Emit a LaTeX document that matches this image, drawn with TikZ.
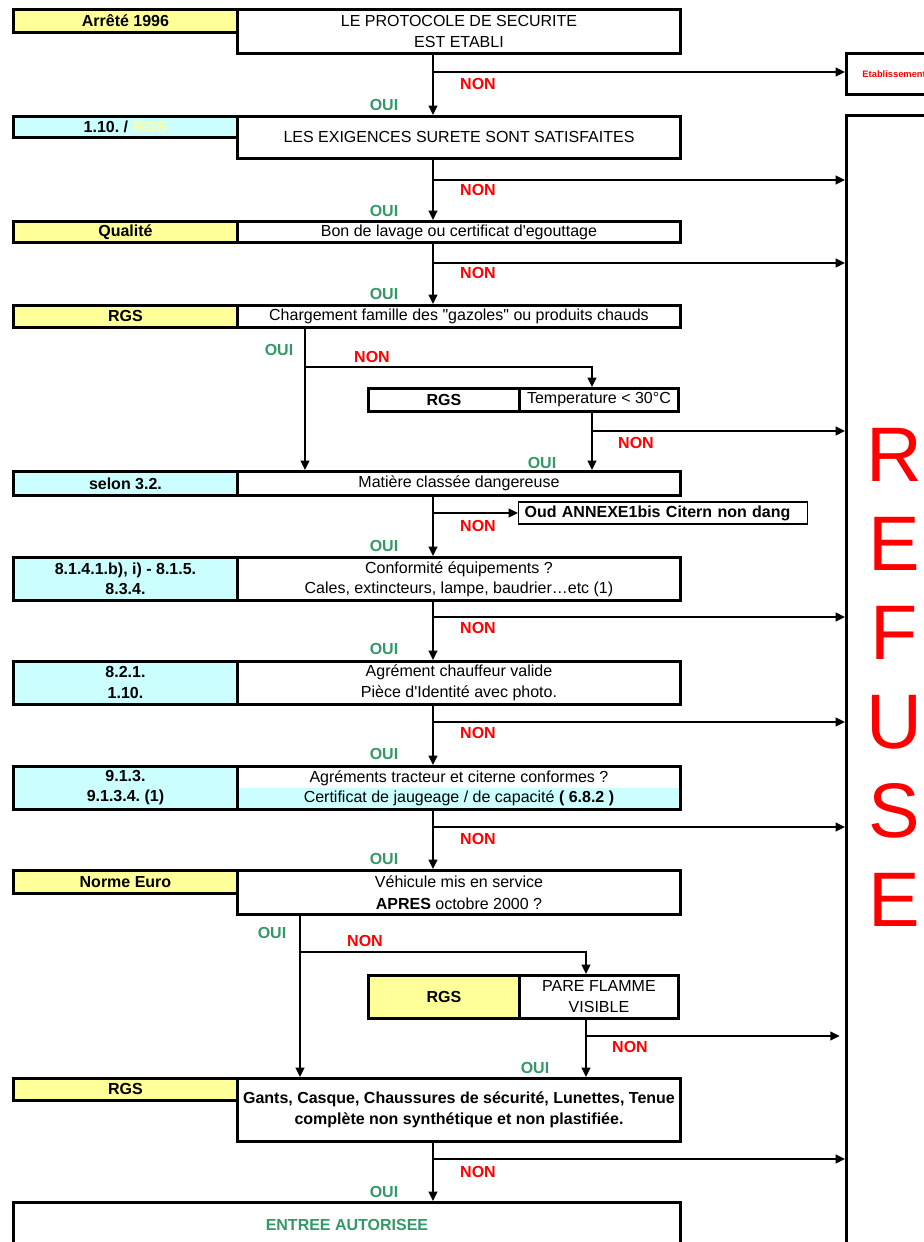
\documentclass[tikz,border=0pt]{standalone}
\usepackage{fontspec}
\setmainfont{Liberation Sans}
\usetikzlibrary{arrows.meta}
\definecolor{jaune}{HTML}{FFFF99}
\definecolor{cyanclair}{HTML}{CCFFFF}
\definecolor{vert}{HTML}{339966}
\newcommand\tx{\fontsize{12}{15.75}\selectfont\frenchspacing}

\begin{document}
\begin{tikzpicture}[x=0.75pt,y=0.75pt,yscale=-1,xscale=1,
  box/.style 2 args={draw, line width=2.2pt, inner sep=0pt, anchor=north west, align=center,
    font=\tx, minimum width=#1*0.75pt, minimum height=#2*0.75pt},
  lab/.style={font=\tx\bfseries, fill=#1},
  flow/.style={line width=1.5pt, -{Triangle[length=7pt,width=6.5pt]}},
  non/.style={text=red, font=\tx\bfseries},
  oui/.style={text=vert, font=\tx\bfseries}]
\useasboundingbox (0,0) rectangle (924,1242);
\clip (0,0) rectangle (924,1242);

%Protocole
\node[box={224}{23}, lab=jaune] (l1) at (12,8) {Arrêté 1996};
\node[box={443}{44}] (m1) at (236,8) {LE PROTOCOLE DE SECURITE\\EST ETABLI};
%Etablissement
\node[box={176}{41}, align=left, inner xsep=11.5pt, text width=144*0.75pt, text=red,
  font=\fontsize{7}{8}\selectfont\bfseries] (etab) at (845,52) {Etablissement};
%Refuse
\node[box={96}{1200}, text=red, font=\fontsize{58}{66.75}\selectfont] (refuse) at (845,114)
  {R\\E\\F\\U\\S\\E\rule[-57pt]{0pt}{57pt}};

%Surete
\node[box={224}{21}, lab=cyanclair] (l2) at (12,115) {1.10. / \textcolor{jaune}{RGS}};
\node[box={443}{42}] (m2) at (236,115) {LES EXIGENCES SURETE SONT SATISFAITES};
%Lavage
\node[box={224}{21}, lab=jaune] (l3) at (12,220) {Qualité};
\node[box={443}{21}] (m3) at (236,220) {Bon de lavage ou certificat d\textquotesingle egouttage};
%Gazoles
\node[box={224}{22}, lab=jaune] (l4) at (12,304) {RGS};
\node[box={443}{22}] (m4) at (236,304)
  {Chargement famille des \textquotedbl gazoles\textquotedbl{} ou produits chauds};
\node[box={151}{23}, lab=white] (r4) at (367,387) {RGS};
\node[box={159}{23}] (t4) at (518,387) {Temperature < 30°C};
%Matiere
\node[box={224}{24}, lab=cyanclair] (l5) at (12,470) {selon 3.2.};
\node[box={443}{24}] (m5) at (236,470) {Matière classée dangereuse};
\node[box={289}{22}, line width=0.9pt, anchor=west, align=left, inner xsep=4.5pt,
  text width=277*0.75pt, font=\tx\bfseries] (oud) at (518,513) {Oud ANNEXE1bis Citern non dang};
%Equipements
\node[box={224}{43}, lab=cyanclair, font=\fontsize{12}{15}\selectfont\frenchspacing\bfseries] (l6) at (12,556)
  {8.1.4.1.b), i) - 8.1.5.\\8.3.4.};
\node[box={443}{43}, font=\fontsize{12}{15}\selectfont] (m6) at (236,556)
  {Conformité équipements ?\\Cales, extincteurs, lampe, baudrier…etc (1)};
%Chauffeur
\node[box={224}{43}, lab=cyanclair] (l7) at (12,660) {8.2.1.\\1.10.};
\node[box={443}{43}] (m7) at (236,660) {Agrément chauffeur valide\\Pièce d\textquotesingle Identité avec photo.};
%Tracteur
\node[box={224}{43}, lab=cyanclair, font=\fontsize{12}{15}\selectfont\frenchspacing\bfseries] (l8) at (12,765)
  {9.1.3.\\9.1.3.4. (1)};
\node[box={443}{43}, font=\fontsize{12}{15}\selectfont,
  path picture={\fill[cyanclair] (path picture bounding box.west) rectangle (path picture bounding box.south east);}]
  (m8) at (236,765)
  {Agréments tracteur et citerne conformes ?\\Certificat de jaugeage / de capacité \textbf{( 6.8.2 )}};
%Norme Euro
\node[box={224}{23}, lab=jaune] (l9) at (12,869) {Norme Euro};
\node[box={443}{44}, font=\fontsize{12}{16.5}\selectfont] (m9) at (236,869)
  {Véhicule mis en service\\\textbf{APRES} octobre 2000 ?};
\node[box={151}{43}, lab=jaune] (r9) at (367,974) {RGS};
\node[box={159}{43}] (p9) at (518,974) {PARE FLAMME\\VISIBLE};
%Equipement personnel
\node[box={224}{22}, lab=jaune] (l10) at (12,1077) {RGS};
\node[box={443}{63}, font=\tx\bfseries] (m10) at (236,1077)
  {Gants, Casque, Chaussures de sécurité, Lunettes, Tenue\\complète non synthétique et non plastifiée.};
%Entree
\node[box={667}{45}, text=vert, font=\tx\bfseries] (fin) at (12,1201) {ENTREE AUTORISEE};

%Branch points
\coordinate (b1) at (433,72);
\coordinate (b2) at (433,180);
\coordinate (b3) at (433,263);
\coordinate (b4) at (305,367);
\coordinate (c4) at (592,431);
\coordinate (b5) at (433,513);
\coordinate (b6) at (433,617);
\coordinate (b7) at (433,722);
\coordinate (b8) at (433,827);
\coordinate (b9) at (300,952);
\coordinate (c9) at (586,1036);
\coordinate (b10) at (433,1159);

%Connectors
\draw[flow] (m1.south -| b1) -- (m2.north -| b1);
\draw[flow] (b1) -- (b1 -| etab.west);
\draw[flow] (m2.south -| b2) -- (m3.north -| b2);
\draw[flow] (b2) -- (b2 -| refuse.west);
\draw[flow] (m3.south -| b3) -- (m4.north -| b3);
\draw[flow] (b3) -- (b3 -| refuse.west);
\draw[flow] (m4.south -| b4) -- (m5.north -| b4);
\draw[flow] (b4) -| (t4.north -| c4);
\draw[flow] (t4.south -| c4) -- (m5.north -| c4);
\draw[flow] (c4) -- (c4 -| refuse.west);
\draw[flow] (m5.south -| b5) -- (m6.north -| b5);
\draw[flow] (b5) -- (oud.west);
\draw[flow] (m6.south -| b6) -- (m7.north -| b6);
\draw[flow] (b6) -- (b6 -| refuse.west);
\draw[flow] (m7.south -| b7) -- (m8.north -| b7);
\draw[flow] (b7) -- (b7 -| refuse.west);
\draw[flow] (m8.south -| b8) -- (m9.north -| b8);
\draw[flow] (b8) -- (b8 -| refuse.west);
\draw[flow] (m9.south -| b9) -- (m10.north -| b9);
\draw[flow] (b9) -| (p9.north -| c9);
\draw[flow] (p9.south -| c9) -- (m10.north -| c9);
\draw[flow, shorten >=4pt] (c9) -- (c9 -| refuse.west);
\draw[flow] (m10.south -| b10) -- (fin.north -| b10);
\draw[flow] (b10) -- (b10 -| refuse.west);

%Answers
\node[non] (n1) at (478,84) {NON};
\node[oui] (o1) at (384,105) {OUI};
\node[non] (n2) at (478,190) {NON};
\node[oui] (o2) at (384,211) {OUI};
\node[non] (n3) at (478,273) {NON};
\node[oui] (o3) at (384,294) {OUI};
\node[oui] (o4) at (279,350) {OUI};
\node[non] (n4) at (372,357) {NON};
\node[non] (n4b) at (636,443) {NON};
\node[oui] (o4b) at (542,463) {OUI};
\node[non] (n5) at (478,526) {NON};
\node[oui] (o5) at (384,546) {OUI};
\node[non] (n6) at (478,628) {NON};
\node[oui] (o6) at (384,649) {OUI};
\node[non] (n7) at (478,733) {NON};
\node[oui] (o7) at (384,754) {OUI};
\node[non] (n8) at (478,839) {NON};
\node[oui] (o8) at (384,859) {OUI};
\node[oui] (o9) at (272,933) {OUI};
\node[non] (n9) at (365,941) {NON};
\node[non] (n9b) at (630,1047) {NON};
\node[oui] (o9b) at (535,1068) {OUI};
\node[non] (n10) at (478,1172) {NON};
\node[oui] (o10) at (384,1192) {OUI};

\end{tikzpicture}
\end{document}
